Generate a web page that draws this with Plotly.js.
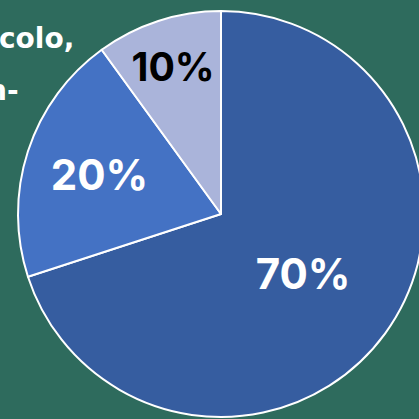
<!DOCTYPE html>
<html>
<head>
<meta charset="utf-8">
<script src="https://cdn.plot.ly/plotly-3.0.1.min.js"></script>
<style>
html,body{margin:0;padding:0;overflow:hidden;background:#2e6b5d;width:419px;height:419px;}
#chart{position:absolute;left:0;top:0;width:440px;height:440px;}
</style>
</head>
<body>
<div id="chart"></div>
<script>
const labels = ["A", "B", "C"];
const values = [70, 20, 10];
const sliceColors = ["#365da0", "#4472c4", "#aab4da"];
const textColors = ["#ffffff", "#ffffff", "#000000"];
const bgTexts = ["colo,", "n-"];

const W = 440, H = 440;
const cx = 221, cy = 214, R = 203;

const trace = {
  type: "pie",
  labels: labels,
  values: values,
  sort: false,
  direction: "clockwise",
  rotation: 0,
  marker: {colors: sliceColors, line: {color: "#ffffff", width: 2}},
  textinfo: "percent",
  texttemplate: "%{percent:.0%}",
  textposition: "inside",
  insidetextorientation: "horizontal",
  textfont: {family: "Inter, sans-serif", size: 42, color: textColors, weight: 700},
  hoverinfo: "none",
  showlegend: false,
  domain: {x: [(cx - R) / W, (cx + R) / W], y: [(H - cy - R) / H, (H - cy + R) / H]}
};

const bgFont = {family: "DejaVu Sans, sans-serif", size: 28, color: "#ffffff", weight: 700};

const layout = {
  width: W, height: H,
  margin: {l: 0, r: 0, t: 0, b: 0},
  paper_bgcolor: "#2e6b5d",
  plot_bgcolor: "#2e6b5d",
  showlegend: false,
  annotations: [
    {text: bgTexts[0], xref: "paper", yref: "paper", x: -3 / W, y: 1 - 38 / H, xanchor: "left", yanchor: "middle",
     showarrow: false, font: bgFont},
    {text: bgTexts[1], xref: "paper", yref: "paper", x: 21 / W, y: 1 - 90 / H, xanchor: "right", yanchor: "middle",
     showarrow: false, font: bgFont}
  ]
};

Plotly.newPlot("chart", [trace], layout, {displayModeBar: false, staticPlot: true});
</script>
</body>
</html>
